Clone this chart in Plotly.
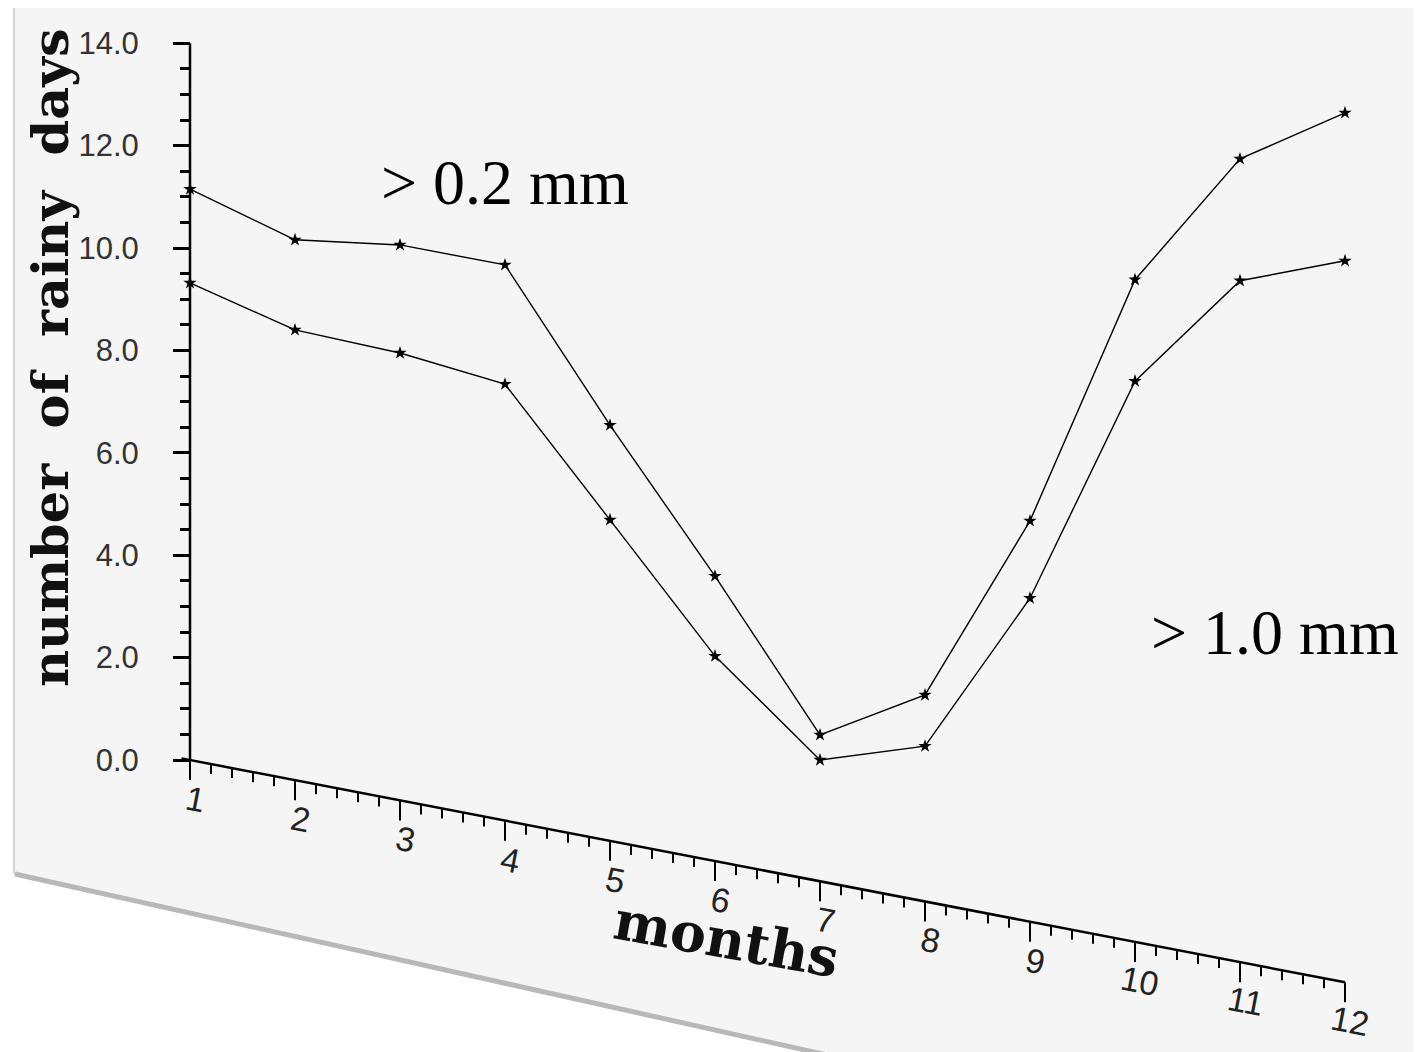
import plotly.graph_objects as go

# ---------------- data ----------------
months = [1, 2, 3, 4, 5, 6, 7, 8, 9, 10, 11, 12]
days_gt_02mm = [11.15, 10.16, 10.06, 9.67, 6.54, 3.59, 0.49, 1.27, 4.67, 9.38, 11.74, 12.64]
days_gt_10mm = [9.32, 8.40, 7.95, 7.34, 4.69, 2.03, 0.0, 0.27, 3.16, 7.40, 9.36, 9.75]
y_tick_vals = [0, 2, 4, 6, 8, 10, 12, 14]
y_tick_text = ["0.0", "2.0", "4.0", "6.0", "8.0", "10.0", "12.0", "14.0"]
x_tick_labels = ["1", "2", "3", "4", "5", "6", "7", "8", "9", "10", "11", "12"]

# ---------------- layout constants ----------------
W, H = 1421, 1052
X0_PX = 182.0          # pixel of month 1
PX_PER_MONTH = 105.0
Y0_PX = 752.0          # pixel of value 0
PX_PER_UNIT = 51.2
SLANT = 0.1925         # pixel drop of the month axis per pixel to the right

x_range = [1 - X0_PX / PX_PER_MONTH, 1 + (W - X0_PX) / PX_PER_MONTH]
y_range = [-(H - Y0_PX) / PX_PER_UNIT, Y0_PX / PX_PER_UNIT]
slant_units = SLANT * PX_PER_MONTH / PX_PER_UNIT   # value units per month


def base(m):
    return -slant_units * (m - months[0])


fig = go.Figure()

line_style = dict(color="black", width=1.4)
marker_style = dict(symbol="star", size=10, color="black")

fig.add_trace(go.Scatter(x=months, y=days_gt_02mm, mode="lines+markers",
                         line=line_style, marker=marker_style, name="> 0.2 mm",
                         cliponaxis=False))
fig.add_trace(go.Scatter(x=months, y=days_gt_10mm, mode="lines+markers",
                         line=line_style, marker=marker_style, name="> 1.0 mm",
                         cliponaxis=False))

shapes = []
px = lambda v: v / W
py = lambda v: 1 - v / H
sheet_path = (f"M {px(7)},{py(0)} L 1,{py(0)} L 1,{py(H)} L {px(840)},{py(H)} "
              f"L {px(7)},{py(865)} Z")
shapes.append(dict(type="path", xref="paper", yref="paper", path=sheet_path,
                   fillcolor="#f5f5f5", line=dict(width=0), layer="below"))
shapes.append(dict(type="line", xref="paper", yref="paper",
                   x0=px(7), y0=py(866), x1=px(846), y1=py(H + 1),
                   line=dict(color="#b8b8b8", width=5), layer="below"))
shapes.append(dict(type="line", xref="paper", yref="paper",
                   x0=px(6), y0=py(0), x1=px(6), y1=py(866),
                   line=dict(color="#d4d4d4", width=2), layer="below"))

# y axis line
shapes.append(dict(type="line", xref="x", yref="y", x0=months[0], x1=months[0],
                   y0=y_tick_vals[0], y1=y_tick_vals[-1],
                   line=dict(color="black", width=2.5)))

# slanted month axis
m_first, m_last = months[0], months[-1]
shapes.append(dict(type="line", xref="x", yref="y",
                   x0=m_first - 0.08, y0=base(m_first - 0.08),
                   x1=m_last, y1=base(m_last),
                   line=dict(color="black", width=2.5)))
major_len = 20 / PX_PER_UNIT
minor_len = 10 / PX_PER_UNIT
for m in months:
    shapes.append(dict(type="line", xref="x", yref="y", x0=m, x1=m,
                       y0=base(m), y1=base(m) - major_len,
                       line=dict(color="black", width=2)))
    if m < m_last:
        for k in range(1, 5):
            mm = m + k / 5
            shapes.append(dict(type="line", xref="x", yref="y", x0=mm, x1=mm,
                               y0=base(mm), y1=base(mm) - minor_len,
                               line=dict(color="black", width=2)))

annotations = []
label_off = 39 / PX_PER_UNIT
for m, t in zip(months, x_tick_labels):
    annotations.append(dict(x=m + 0.05, y=base(m) - label_off, xref="x", yref="y",
                            xanchor="center", yanchor="middle",
                            text=t, showarrow=False, textangle=11,
                            font=dict(family="Liberation Sans Narrow, Liberation Sans, Arial",
                                      size=34, color="#222222")))

annotations.append(dict(x=px(718), y=py(931), xref="paper", yref="paper",
                        xanchor="center", yanchor="middle",
                        text="months", showarrow=False, textangle=10,
                        font=dict(family="DejaVu Serif", size=54, color="#111111",
                                  weight="bold")))
annotations.append(dict(x=px(42), y=py(350), xref="paper", yref="paper",
                        xanchor="center", yanchor="middle",
                        text="number\u00a0\u00a0of\u00a0\u00a0rainy\u00a0\u00a0days",
                        showarrow=False, textangle=-90,
                        font=dict(family="DejaVu Serif", size=51, color="#111111",
                                  weight="bold")))
annotations.append(dict(x=px(497), y=py(174), xref="paper", yref="paper",
                        xanchor="center", yanchor="middle",
                        text="> 0.2 mm", showarrow=False,
                        font=dict(family="Liberation Serif, Times New Roman", size=64,
                                  color="black")))
annotations.append(dict(x=px(1267), y=py(624), xref="paper", yref="paper",
                        xanchor="center", yanchor="middle",
                        text="> 1.0 mm", showarrow=False,
                        font=dict(family="Liberation Serif, Times New Roman", size=64,
                                  color="black")))

minor_vals = []
for a, b in zip(y_tick_vals[:-1], y_tick_vals[1:]):
    step = (b - a) / 4
    minor_vals += [a + step, a + 2 * step, a + 3 * step]

fig.update_layout(
    width=W, height=H, autosize=False,
    margin=dict(l=0, r=0, t=0, b=0, pad=0),
    paper_bgcolor="white", plot_bgcolor="rgba(0,0,0,0)",
    showlegend=False,
    xaxis=dict(range=x_range, visible=False, fixedrange=True),
    yaxis=dict(range=y_range, anchor="free", position=X0_PX / W,
               showgrid=False, zeroline=False, showline=False,
               tickmode="array", tickvals=y_tick_vals, ticktext=y_tick_text,
               ticks="outside", ticklen=17, tickwidth=2.5, tickcolor="black",
               ticklabelstandoff=28,
               tickfont=dict(family="Liberation Sans, Arial", size=31, color="#333333"),
               minor=dict(tickmode="array", tickvals=minor_vals, ticks="outside",
                          ticklen=10, tickwidth=2.5, tickcolor="black"),
               fixedrange=True),
    shapes=shapes,
    annotations=annotations,
)

fig.write_html("out.html")
